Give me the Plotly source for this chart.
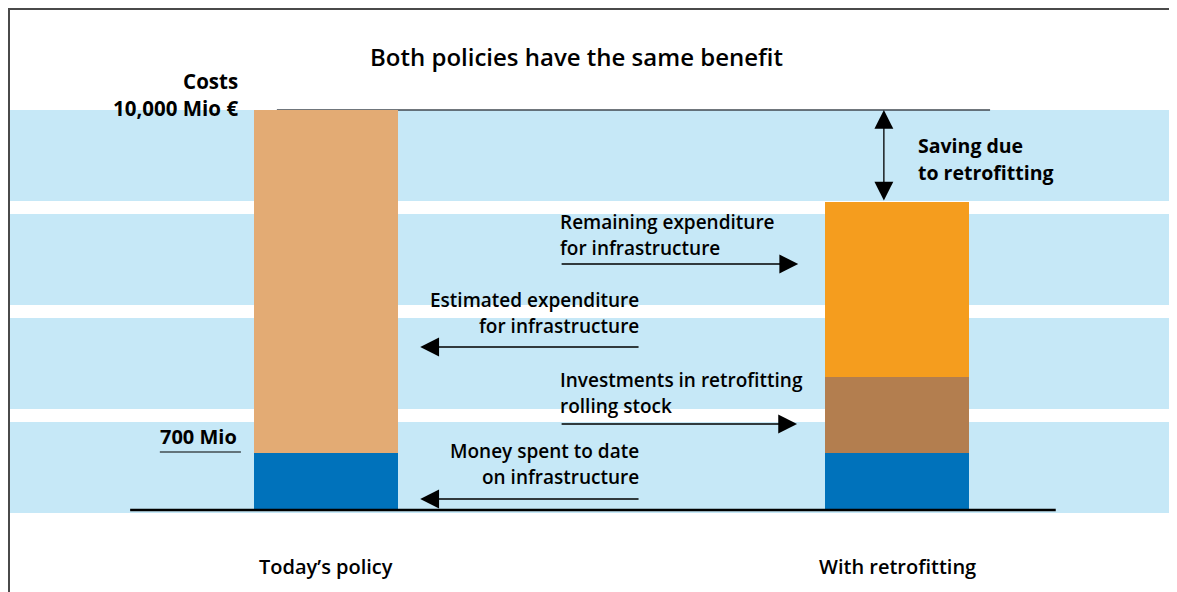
import plotly.graph_objects as go

# ---------------- data ----------------
categories = ["Today’s policy", "With retrofitting"]
money_spent_to_date = [1425, 1425]          # drawn height (labelled "700 Mio")
estimated_expenditure = [8575, 0]
investments_retrofitting = [0, 1900]
remaining_expenditure = [0, 4375]
top_cost = 10000
tick_labels = ["Costs<br>10,000 Mio €", "700 Mio"]
title_text = "Both policies have the same benefit"

c_blue = "#0072BB"
c_tan = "#E3AB74"
c_brown = "#B37E4F"
c_orange = "#F59D1E"
c_band = "#C6E8F7"

FONT = "Open Sans"
W, H = 1169, 584   # page has an 8px body margin
xs = [0, 1]
fig = go.Figure()
for vals, col in [(money_spent_to_date, c_blue), (estimated_expenditure, c_tan),
                  (investments_retrofitting, c_brown), (remaining_expenditure, c_orange)]:
    fig.add_trace(go.Bar(x=xs, y=vals, marker=dict(color=col, line=dict(width=0)),
                         width=0.252, showlegend=False, hoverinfo="skip"))

def py(p):  # page y -> paper
    return 1 - (p - 8) / H

def px(p):  # page x -> paper
    return (p - 8) / W

shapes = []
for y0, y1 in [(110, 201), (214, 305), (318, 409), (422, 513)]:
    shapes.append(dict(type="rect", xref="paper", yref="paper", x0=0, x1=1.05,
                       y0=py(y1), y1=py(y0), fillcolor=c_band, line=dict(width=0), layer="below"))
# frame
shapes.append(dict(type="line", xref="paper", yref="paper", x0=px(9), x1=px(9), y0=0, y1=1,
                   line=dict(color="#4a4a4a", width=2)))
shapes.append(dict(type="line", xref="paper", yref="paper", x0=px(8), x1=1.05, y0=py(9), y1=py(9),
                   line=dict(color="#4a4a4a", width=2)))
# top cost line and baseline
shapes.append(dict(type="line", x0=-0.086, x1=1.163, y0=top_cost, y1=top_cost,
                   line=dict(color="#404850", width=1.5), layer="below"))
shapes.append(dict(type="line", x0=-0.343, x1=1.278, y0=0, y1=0, line=dict(color="black", width=2.5)))
# 700 Mio underline
shapes.append(dict(type="line", x0=-0.291, x1=-0.149, y0=1450, y1=1450, line=dict(color="black", width=1.2)))

ann = []
def txt(x, y, t, anchor, size=19, weight=600):
    ann.append(dict(x=x, y=y, text=t, showarrow=False, xanchor=anchor, yanchor="middle",
                    align=anchor if anchor != "center" else "center",
                    font=dict(family=FONT, size=size, color="black", weight=weight)))

def arrow(x0, x1, y, side="end"):
    ann.append(dict(x=x1, y=y, ax=x0, ay=y, axref="x", ayref="y", xref="x", yref="y", text="",
                    showarrow=True, arrowhead=2, arrowsize=2.9, arrowwidth=1.3, arrowcolor="black",
                    arrowside=side))

txt(0.438, 11350, title_text, "center", size=24)
txt(-0.151, 10400, tick_labels[0], "right", size=20.5, weight=700)
txt(-0.153, 1850, tick_labels[1], "right", size=20, weight=700)

txt(0.407, 7200, "Remaining expenditure", "left")
txt(0.407, 6550, "for infrastructure", "left")
arrow(0.41, 0.827, 6150)
txt(0.552, 5250, "Estimated expenditure", "right")
txt(0.552, 4600, "for infrastructure", "right")
arrow(0.55, 0.165, 4075)
txt(0.407, 3250, "Investments in retrofitting", "left")
txt(0.407, 2600, "rolling stock", "left")
arrow(0.41, 0.825, 2150)
txt(0.552, 1475, "Money spent to date", "right")
txt(0.552, 825, "on infrastructure", "right")
arrow(0.55, 0.165, 275)

# saving double arrow
saving_bottom = remaining_expenditure[1] + investments_retrofitting[1] + money_spent_to_date[1]
ann.append(dict(x=0.977, y=top_cost, ax=0.977, ay=saving_bottom,
                axref="x", ayref="y", text="", showarrow=True, arrowhead=2, arrowsize=2.9,
                arrowwidth=1.3, arrowcolor="black", arrowside="end+start"))
txt(1.034, 9125, "Saving due", "left", size=19.5, weight=700)
txt(1.034, 8450, "to retrofitting", "left", size=19.5, weight=700)

for x, c in zip(xs, categories):
    txt(x, -1400, c, "center", size=20)

fig.update_layout(
    width=W, height=H, margin=dict(l=0, r=0, t=0, b=0),
    paper_bgcolor="white", plot_bgcolor="rgba(0,0,0,0)", barmode="stack", bargap=0,
    xaxis=dict(range=[-318/571, 851/571], visible=False, fixedrange=True),
    yaxis=dict(range=[-2050, 12550], visible=False, fixedrange=True),
    shapes=shapes, annotations=ann,
)
fig.write_html("out.html")
